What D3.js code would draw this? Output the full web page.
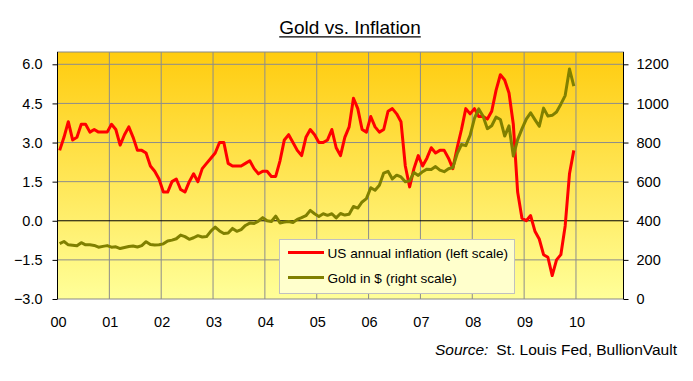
<!DOCTYPE html>
<html>
<head>
<meta charset="utf-8">
<script src="https://cdn.jsdelivr.net/npm/d3@7"></script>
<style>
  body { margin: 0; background: #fff; }
  svg { display: block; font-family: "Liberation Sans", Arial, sans-serif; }
</style>
</head>
<body>
<div id="chart"></div>
<script>
// monthly, Jan 2000 - Dec 2009
let inflation = [
    2.7, 3.2, 3.8, 3.1, 3.2, 3.7, 3.7, 3.4, 3.5, 3.4, 3.4, 3.4,
    3.7, 3.5, 2.9, 3.3, 3.6, 3.2, 2.7, 2.7, 2.6, 2.1, 1.9, 1.6,
    1.1, 1.1, 1.5, 1.6, 1.2, 1.1, 1.5, 1.8, 1.5, 2.0, 2.2, 2.4,
    2.6, 3.0, 3.0, 2.2, 2.1, 2.1, 2.1, 2.2, 2.3, 2.0, 1.8, 1.9,
    1.9, 1.7, 1.7, 2.3, 3.1, 3.3, 3.0, 2.7, 2.5, 3.2, 3.5, 3.3,
    3.0, 3.0, 3.1, 3.5, 2.8, 2.5, 3.2, 3.6, 4.7, 4.3, 3.5, 3.4,
    4.0, 3.6, 3.4, 3.5, 4.2, 4.3, 4.1, 3.8, 2.1, 1.3, 2.0, 2.5,
    2.1, 2.4, 2.8, 2.6, 2.7, 2.7, 2.4, 2.0, 2.8, 3.5, 4.3, 4.1,
    4.3, 4.0, 4.0, 3.9, 4.2, 5.0, 5.6, 5.4, 4.9, 3.7, 1.1, 0.1,
    0.0, 0.2, -0.4, -0.7, -1.3, -1.4, -2.1, -1.5, -1.3, -0.2, 1.8, 2.7
];
let gold = [
    283, 294, 277, 275, 272, 288, 277, 277, 274, 265, 269, 273,
    265, 267, 258, 263, 268, 271, 266, 273, 293, 279, 276, 277,
    282, 297, 301, 308, 327, 319, 305, 313, 324, 317, 319, 347,
    368, 348, 335, 337, 361, 346, 355, 376, 388, 386, 398, 416,
    400, 396, 424, 389, 393, 396, 391, 407, 416, 426, 453, 436,
    422, 436, 428, 436, 415, 437, 429, 433, 473, 465, 496, 513,
    569, 556, 582, 644, 653, 614, 633, 624, 599, 604, 647, 632,
    651, 664, 662, 677, 659, 651, 666, 672, 743, 790, 784, 837,
    923, 972, 934, 871, 886, 930, 918, 833, 885, 731, 815, 870,
    920, 952, 917, 883, 976, 935, 939, 956, 996, 1040, 1176, 1088
];
let yearLabels = ['00', '01', '02', '03', '04', '05', '06', '07', '08', '09', '10'];
let leftTicks = [-3, -1.5, 0, 1.5, 3, 4.5, 6];
let rightTicks = [0, 200, 400, 600, 800, 1000, 1200];

let width = 693, height = 381;
let plot = {left: 57.5, right: 623.5, top: 52, bottom: 299};

let svg = d3.select('#chart').append('svg')
    .attr('width', width)
    .attr('height', height);

let x = d3.scaleLinear().domain([0, 131]).range([plot.left, plot.right]);
let yL = d3.scaleLinear().domain([-3, 6]).range([plot.bottom, 64.3]);
let yR = d3.scaleLinear().domain([0, 1200]).range([plot.bottom, 64.3]);

// background gradient
let grad = svg.append('defs').append('linearGradient')
    .attr('id', 'bg')
    .attr('x1', 0).attr('y1', 0).attr('x2', 0).attr('y2', 1);
grad.append('stop').attr('offset', '0%').attr('stop-color', '#ffcc0f');
grad.append('stop').attr('offset', '100%').attr('stop-color', '#ffff99');

svg.append('rect')
    .attr('x', plot.left)
    .attr('y', plot.top)
    .attr('width', plot.right - plot.left)
    .attr('height', plot.bottom - plot.top)
    .attr('fill', 'url(#bg)')
    .attr('stroke', '#888')
    .attr('stroke-width', 1);

// grid
svg.append('g').selectAll('line')
    .data(d3.range(1, 11))
    .enter()
    .append('line')
    .attr('x1', function(d) {return x(d * 12)})
    .attr('x2', function(d) {return x(d * 12)})
    .attr('y1', plot.top)
    .attr('y2', plot.bottom)
    .attr('stroke', '#8c8c8c')
    .attr('stroke-width', 1);

svg.append('g').selectAll('line')
    .data(leftTicks.filter(function(d) {return d !== 0 && d !== -3}))
    .enter()
    .append('line')
    .attr('x1', plot.left)
    .attr('x2', plot.right)
    .attr('y1', function(d) {return yL(d)})
    .attr('y2', function(d) {return yL(d)})
    .attr('stroke', '#8c8c8c')
    .attr('stroke-width', 1);

svg.append('line')
    .attr('x1', plot.left).attr('x2', plot.right)
    .attr('y1', yL(0)).attr('y2', yL(0))
    .attr('stroke', '#000').attr('stroke-width', 1);

// axes
let leftAxis = d3.axisLeft(yL)
    .tickValues(leftTicks)
    .tickFormat(d3.format('.1f'))
    .tickSize(5)
    .tickPadding(10);
let gL = svg.append('g').attr('transform', 'translate(' + plot.left + ',0)').call(leftAxis);

let rightAxis = d3.axisRight(yR)
    .tickValues(rightTicks)
    .tickFormat(d3.format('d'))
    .tickSize(5)
    .tickPadding(8);
let gR = svg.append('g').attr('transform', 'translate(' + plot.right + ',0)').call(rightAxis);

[gL, gR].forEach(function(g) {
    g.select('.domain').attr('stroke', '#000').attr('d', function() {
        return 'M0,' + plot.top + 'V' + plot.bottom;
    });
    g.selectAll('.tick line').attr('stroke', '#000');
    g.selectAll('.tick text')
        .attr('fill', '#000')
        .style('font-family', '"Liberation Sans", Arial, sans-serif')
        .style('font-size', '14.5px');
});

svg.append('g').selectAll('text')
    .data(yearLabels)
    .enter()
    .append('text')
    .attr('x', function(d, i) {return x(i * 12) + 1})
    .attr('y', 326.5)
    .attr('text-anchor', 'middle')
    .style('font-size', '14.5px')
    .attr('fill', '#000')
    .text(function(d) {return d});

// lines
let monthX = function(d, i) {return x(i + 0.5)};

svg.append('path')
    .datum(inflation)
    .attr('fill', 'none')
    .attr('stroke', '#ff0000')
    .attr('stroke-width', 3)
    .attr('stroke-linejoin', 'round')
    .attr('d', d3.line().x(monthX).y(function(d) {return yL(d)}));

svg.append('path')
    .datum(gold)
    .attr('fill', 'none')
    .attr('stroke', '#808000')
    .attr('stroke-width', 3)
    .attr('stroke-linejoin', 'round')
    .attr('d', d3.line().x(monthX).y(function(d) {return yR(d)}));

// legend
let legend = svg.append('g');
legend.append('rect')
    .attr('x', 279.5).attr('y', 239.5)
    .attr('width', 235).attr('height', 54)
    .attr('fill', '#ffffcc')
    .attr('stroke', '#c0c0c0');

let legendItems = [
    {label: 'US annual inflation (left scale)', color: '#ff0000'},
    {label: 'Gold in $ (right scale)', color: '#808000'}
];
let li = legend.selectAll('.item')
    .data(legendItems)
    .enter()
    .append('g')
    .attr('class', 'item')
    .attr('transform', function(d, i) {return 'translate(0,' + (252.5 + i * 25) + ')'});
li.append('line')
    .attr('x1', 288).attr('x2', 324)
    .attr('stroke', function(d) {return d.color})
    .attr('stroke-width', 3);
li.append('text')
    .attr('x', 327.5)
    .attr('y', 5)
    .style('font-size', '13.6px')
    .attr('fill', '#000')
    .text(function(d) {return d.label});

// title
let title = svg.append('text')
    .attr('x', 350)
    .attr('y', 33.5)
    .attr('text-anchor', 'middle')
    .style('font-size', '19px')
    .attr('fill', '#000')
    .text('Gold vs. Inflation');
let tw = title.node().getComputedTextLength();
svg.append('line')
    .attr('x1', 350 - tw / 2).attr('x2', 350 + tw / 2)
    .attr('y1', 36.8).attr('y2', 36.8)
    .attr('stroke', '#000').attr('stroke-width', 1.3);

// source
let src = svg.append('text')
    .attr('x', 677)
    .attr('y', 355)
    .attr('text-anchor', 'end')
    .style('font-size', '15.5px')
    .attr('fill', '#000');
src.append('tspan').style('font-style', 'italic').text('Source:');
src.append('tspan').attr('dx', 8).text('St. Louis Fed, BullionVault');
</script>
</body>
</html>
